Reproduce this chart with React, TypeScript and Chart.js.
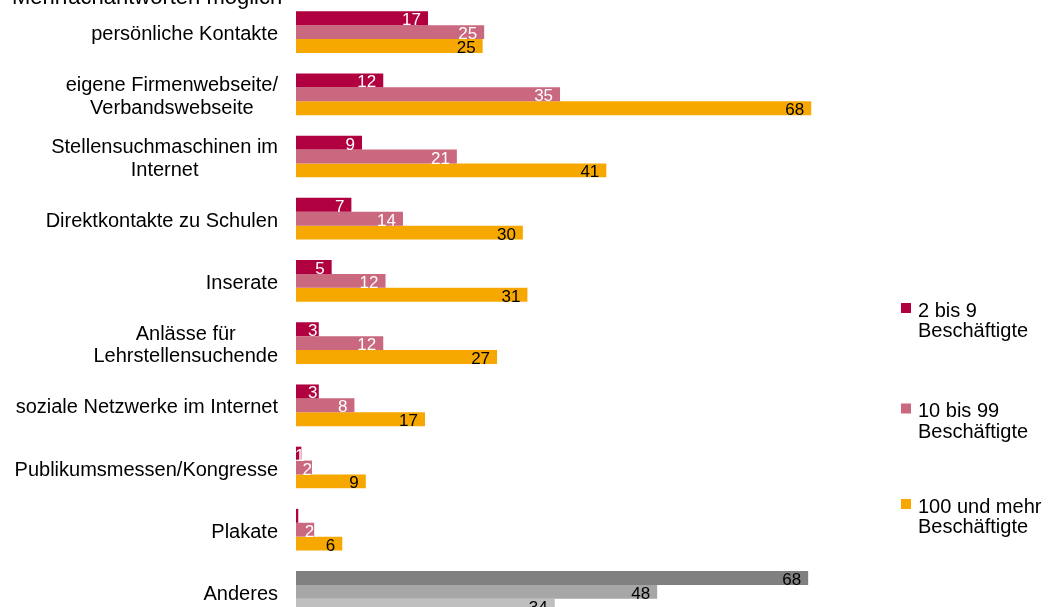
import React, { useEffect, useRef } from 'react';
import { Chart, registerables } from 'chart.js';

Chart.register(...registerables);

// ---- data ----
const categories: (string | string[])[] = [
  'persönliche Kontakte',
  ['eigene Firmenwebseite/', 'Verbandswebseite'],
  ['Stellensuchmaschinen im', 'Internet'],
  'Direktkontakte zu Schulen',
  'Inserate',
  ['Anlässe für', 'Lehrstellensuchende'],
  'soziale Netzwerke im Internet',
  'Publikumsmessen/Kongresse',
  'Plakate',
  'Anderes',
];

const seriesNames: string[][] = [
  ['2 bis 9', 'Beschäftigte'],
  ['10 bis 99', 'Beschäftigte'],
  ['100 und mehr', 'Beschäftigte'],
];

const small: number[] = [17.4, 11.5, 8.7, 7.3, 4.7, 3.0, 3.0, 0.7, 0.3, 67.5];
const medium: number[] = [24.8, 34.8, 21.2, 14.1, 11.8, 11.5, 7.7, 2.1, 2.4, 47.6];
const large: number[] = [24.6, 67.9, 40.9, 29.9, 30.5, 26.5, 17.0, 9.2, 6.1, 34.1];

const noteText = 'Mehrfachantworten möglich';

// ---- styles ----
const seriesColors = ['#B0003F', '#C9687F', '#F6A800'];
const otherColors = ['#808080', '#A6A6A6', '#BFBFBF'];
const labelColors = ['#FFFFFF', '#FFFFFF', '#000000'];
const otherCategory = 'Anderes';
const FONT = '"Liberation Sans", Arial, sans-serif';
const OFF = 30; // canvas is shifted up by this many px
const W = 1048;
const H = 660;

const App: React.FC = () => {
  const ref = useRef<HTMLCanvasElement | null>(null);

  useEffect(() => {
    if (!ref.current) return;
    const allSeries = [small, medium, large];
    const isOther = (i: number) => categories[i] === otherCategory;

    const datasets = allSeries.map((vals, s) => ({
      label: seriesNames[s].join(' '),
      data: vals,
      backgroundColor: vals.map((_, i) => (isOther(i) ? otherColors[s] : seriesColors[s])),
      borderWidth: 0,
      barPercentage: 1.0,
      categoryPercentage: 0.67,
    }));

    const yLabelPlugin = {
      id: 'yLabels',
      afterDraw(chart: any) {
        const ctx = chart.ctx as CanvasRenderingContext2D;
        const y = chart.scales.y;
        ctx.save();
        ctx.font = `20px ${FONT}`;
        ctx.fillStyle = '#000000';
        ctx.textAlign = 'center';
        ctx.textBaseline = 'alphabetic';
        const right = 278;
        const lh = 22.5;
        categories.forEach((c, i) => {
          const lines = Array.isArray(c) ? c : [c];
          const bw = Math.max(...lines.map((l) => ctx.measureText(l).width));
          const cx = right - bw / 2;
          const cy = y.getPixelForValue(i);
          const n = lines.length;
          lines.forEach((l, k) => {
            const by = cy + (k - (n - 1) / 2) * lh + 8;
            ctx.fillText(l, cx, by);
          });
        });
        // note text
        ctx.textAlign = 'left';
        ctx.font = `22px ${FONT}`;
        ctx.fillText(noteText, 12, 3.5 + OFF);
        ctx.restore();
      },
    };

    const valueLabelPlugin = {
      id: 'valueLabels',
      afterDatasetsDraw(chart: any) {
        const ctx = chart.ctx as CanvasRenderingContext2D;
        ctx.save();
        ctx.font = `17px ${FONT}`;
        ctx.textAlign = 'right';
        ctx.textBaseline = 'alphabetic';
        allSeries.forEach((vals, s) => {
          const meta = chart.getDatasetMeta(s);
          meta.data.forEach((bar: any, j: number) => {
            const txt = String(Math.round(vals[j]));
            if (txt === '0') return;
            const p = bar.getProps(['x', 'y', 'base'], true);
            const bw = p.x - p.base;
            const tw = ctx.measureText(txt).width;
            const pad = Math.max(0, Math.min(7, bw - tw - 12));
            const tx = Math.max(p.x - pad, p.base + tw - 1);
            ctx.fillStyle = isOther(j) ? '#000000' : labelColors[s];
            ctx.fillText(txt, tx, p.y + 7);
          });
        });
        ctx.restore();
      },
    };

    const legendPlugin = {
      id: 'customLegend',
      afterDraw(chart: any) {
        const ctx = chart.ctx as CanvasRenderingContext2D;
        ctx.save();
        ctx.font = `20px ${FONT}`;
        ctx.textAlign = 'left';
        ctx.textBaseline = 'alphabetic';
        const baselines = [316.5, 417, 512.5];
        seriesNames.forEach((lines, s) => {
          const b = baselines[s] + OFF;
          ctx.fillStyle = seriesColors[s];
          ctx.fillRect(901, b - 13.5, 10, 10);
          ctx.fillStyle = '#000000';
          lines.forEach((l, k) => ctx.fillText(l, 918, b + k * 20.5));
        });
        ctx.restore();
      },
    };

    const chart = new Chart(ref.current, {
      type: 'bar',
      data: { labels: categories.map((c) => (Array.isArray(c) ? c.join(' ') : c)), datasets },
      options: {
        indexAxis: 'y',
        animation: false,
        responsive: false,
        maintainAspectRatio: false,
        layout: { padding: { top: 31, bottom: 7, left: 0, right: 145 } },
        plugins: { legend: { display: false }, tooltip: { enabled: false }, title: { display: false } },
        scales: {
          x: { display: false, min: 0, max: 80 },
          y: {
            display: true,
            grid: { display: false },
            border: { display: false },
            ticks: { display: false },
            afterFit: (scale: any) => {
              scale.width = 296;
            },
          },
        },
      },
      plugins: [yLabelPlugin, valueLabelPlugin, legendPlugin],
    });
    return () => chart.destroy();
  }, []);

  return (
    <div style={{ position: 'absolute', left: 0, top: 0, width: W, height: 607, overflow: 'hidden', background: '#fff' }}>
      <div style={{ position: 'absolute', left: 0, top: -OFF, width: W, height: H }}>
        <canvas ref={ref} width={W} height={H} style={{ display: 'block' }} />
      </div>
    </div>
  );
};

export default App;
